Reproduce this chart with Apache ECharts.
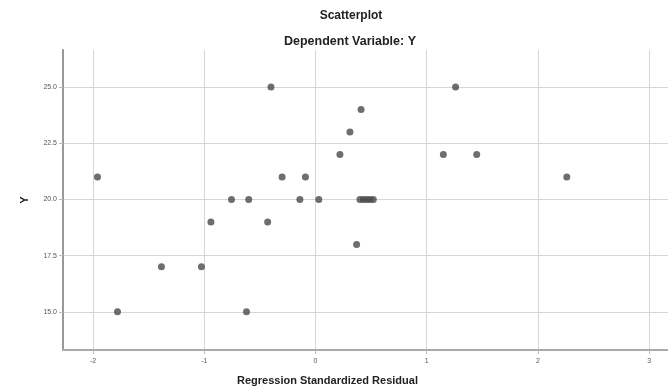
<!DOCTYPE html>
<html>
<head>
<meta charset="utf-8">
<script src="https://cdn.jsdelivr.net/npm/echarts@6/dist/echarts.min.js"></script>
<style>
  html, body { margin: 0; padding: 0; background: #fff; }
  #chart { width: 668px; height: 392px; }
</style>
</head>
<body>
<div id="chart"></div>
<script>
// residuals (x) and dependent values (y)
const residuals = [
    -0.40, 1.26, 0.41, 0.31, 0.22, 1.15, 1.45,
    -1.96, -0.30, -0.09, 2.26,
    -0.755, -0.60, -0.14, 0.03, 0.40, 0.43, 0.46, 0.49, 0.52,
    -0.94, -0.43, 0.37,
    -1.385, -1.025,
    -1.78, -0.62
]
const yValues = [
    25, 25, 24, 23, 22, 22, 22,
    21, 21, 21, 21,
    20, 20, 20, 20, 20, 20, 20, 20, 20,
    19, 19, 18,
    17, 17,
    15, 15
]
const xTicks = [-2, -1, 0, 1, 2, 3]
const yTicks = [15, 17.5, 20, 22.5, 25]

const chart = echarts.init(document.getElementById("chart"))
const font = "Liberation Sans"

const points = residuals.map((x, i) => [x, yValues[i]])

const option = {
    animation: false,
    title: [
        {
            text: "Scatterplot",
            left: 346,
            top: 5,
            textAlign: "center",
            textStyle: { fontFamily: font, fontSize: 12, fontWeight: "bold", color: "#222" },
        },
        {
            text: "Dependent Variable: Y",
            left: 345,
            top: 30,
            textAlign: "center",
            textStyle: { fontFamily: font, fontSize: 12.5, fontWeight: "bold", color: "#222" },
        },
    ],
    grid: { left: 63, right: 0, top: 50, bottom: 42 },
    xAxis: {
        type: "value",
        min: -2.27,
        max: 3.17,
        name: "Regression Standardized Residual",
        nameLocation: "middle",
        nameGap: 25,
        nameTextStyle: { fontFamily: font, fontSize: 11, fontWeight: "bold", color: "#222", padding: [0, 76, 0, 0] },
        axisLine: { show: true, onZero: false, lineStyle: { color: "#aaa", width: 2 } },
        axisTick: { show: true, length: 4, customValues: xTicks, lineStyle: { color: "#bbb" } },
        axisLabel: { customValues: xTicks, fontFamily: font, fontSize: 7, color: "#555", margin: 8 },
        splitLine: { show: true, lineStyle: { color: "#d6d6d6", width: 1 } },
    },
    yAxis: {
        type: "value",
        min: 13.3,
        max: 26.65,
        name: "Y",
        nameLocation: "middle",
        nameRotate: 90,
        nameGap: 33,
        nameTextStyle: { fontFamily: font, fontSize: 11, fontWeight: "bold", color: "#222" },
        axisLine: { show: true, onZero: false, lineStyle: { color: "#999", width: 2 } },
        axisTick: { show: true, length: 4, customValues: yTicks, lineStyle: { color: "#bbb" } },
        axisLabel: {
            customValues: yTicks,
            fontFamily: font,
            fontSize: 7,
            color: "#555",
            margin: 6,
            formatter: v => v.toFixed(1),
        },
        splitLine: { show: true, lineStyle: { color: "#d6d6d6", width: 1 } },
    },
    series: [
        {
            type: "scatter",
            data: points,
            symbolSize: 7,
            itemStyle: { color: "#4a4a4a" },
        },
    ],
}
chart.setOption(option)
</script>
</body>
</html>
